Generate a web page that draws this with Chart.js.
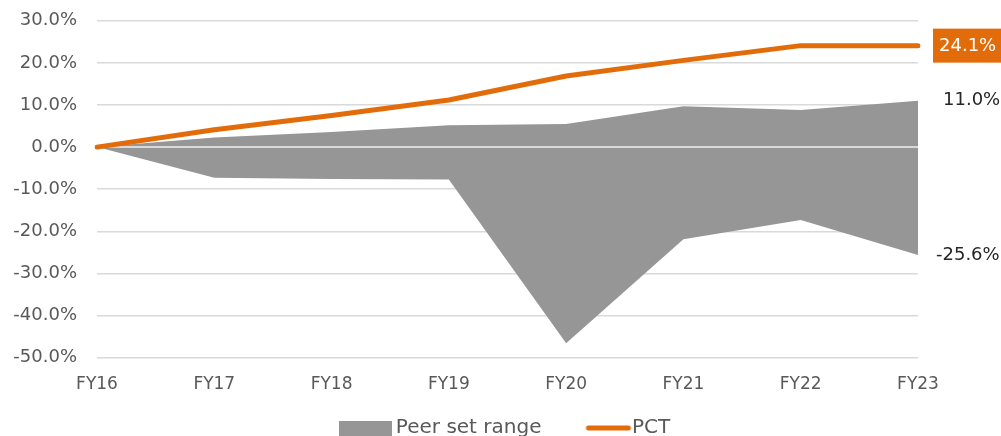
<!DOCTYPE html>
<html>
<head>
<meta charset="utf-8">
<script src="https://cdn.jsdelivr.net/npm/chart.js@4/dist/chart.umd.min.js"></script>
<style>
  html, body { margin: 0; padding: 0; background: #fff; overflow: hidden; }
  #wrap { width: 1001px; height: 436px; overflow: hidden; }
  #peerChart { display: block; margin-top: -10px; }
</style>
</head>
<body>
<div id="wrap"><canvas id="peerChart" width="1001" height="458"></canvas></div>
<script>
// data (percent)
const years = ['FY16', 'FY17', 'FY18', 'FY19', 'FY20', 'FY21', 'FY22', 'FY23'];
const peerHigh = [0, 2.3, 3.6, 5.2, 5.5, 9.7, 8.8, 11.0];
const peerLow = [0, -7.3, -7.6, -7.7, -46.6, -21.9, -17.3, -25.6];
const pct = [0, 4.1, 7.5, 11.2, 16.9, 20.6, 24.1, 24.1];
const zeroLine = [0, 0, 0, 0, 0, 0, 0, 0];
const yTicks = [-50, -40, -30, -20, -10, 0, 10, 20, 30];

const GREY = '#969696';
const ORANGE = '#E36C0A';
const FONT = "'DejaVu Sans', sans-serif";

// legend swatches
function swatch(w, h, draw) {
    const c = document.createElement('canvas');
    c.width = w; c.height = h;
    draw(c.getContext('2d'));
    return c;
}
const greyBox = swatch(53, 15, g => { g.fillStyle = GREY; g.fillRect(0, 0, 53, 15); });
const orangeLine = swatch(70, 8, g => {
    g.strokeStyle = ORANGE; g.lineWidth = 5; g.lineCap = 'round';
    g.beginPath(); g.moveTo(22, 4); g.lineTo(62, 4); g.stroke();
});

// end-of-series labels on the right
const endLabels = {
    id: 'endLabels',
    afterDraw(chart) {
        const ctx = chart.ctx;
        const y = chart.scales.y;
        const x0 = chart.chartArea.right + 15;
        const last = years.length - 1;
        ctx.save();
        ctx.font = '18px ' + FONT;
        ctx.textBaseline = 'middle';
        ctx.textAlign = 'left';

        // PCT label in orange box
        const yp = y.getPixelForValue(pct[last]);
        const t1 = pct[last].toFixed(1) + '%';
        ctx.fillStyle = ORANGE;
        ctx.fillRect(x0, yp - 17, ctx.measureText(t1).width + 12, 34);
        ctx.fillStyle = '#fff';
        ctx.fillText(t1, x0 + 6, yp + 1);

        ctx.fillStyle = '#262626';
        ctx.fillText(peerHigh[last].toFixed(1) + '%', x0 + 10, y.getPixelForValue(peerHigh[last]));
        ctx.fillText(peerLow[last].toFixed(1) + '%', x0 + 3, y.getPixelForValue(peerLow[last]));
        ctx.restore();
    }
};

new Chart(document.getElementById('peerChart'), {
    type: 'line',
    data: {
        labels: years,
        datasets: [{
            label: 'Peer set range',
            data: peerHigh,
            borderWidth: 0,
            borderColor: GREY,
            backgroundColor: GREY,
            fill: '+1',
            pointRadius: 0,
            pointStyle: greyBox,
            order: 3
        }, {
            label: 'low',
            data: peerLow,
            borderWidth: 0,
            borderColor: GREY,
            backgroundColor: GREY,
            fill: false,
            pointRadius: 0,
            order: 4
        }, {
            label: 'zero',
            data: zeroLine,
            borderWidth: 2,
            borderColor: '#d9d9d9',
            fill: false,
            pointRadius: 0,
            order: 2
        }, {
            label: 'PCT',
            data: pct,
            borderWidth: 5,
            borderColor: ORANGE,
            backgroundColor: ORANGE,
            borderCapStyle: 'round',
            borderJoinStyle: 'round',
            fill: false,
            pointRadius: 0,
            pointStyle: orangeLine,
            tension: 0,
            order: 1
        }]
    },
    options: {
        responsive: false,
        animation: false,
        layout: {
            padding: { top: 0, right: 0, left: 0, bottom: 0 }
        },
        plugins: {
            legend: {
                position: 'bottom',
                fullSize: false,
                labels: {
                    usePointStyle: true,
                    pointStyleWidth: 41,
                    boxHeight: 15,
                    color: '#595959',
                    font: { family: FONT, size: 20 },
                    padding: 14,
                    // only the range and PCT; a little extra room after the first entry
                    generateLabels: chart => Chart.defaults.plugins.legend.labels.generateLabels(chart)
                        .filter(it => it.datasetIndex === 0 || it.datasetIndex === 3)
                        .map(it => it.datasetIndex === 0 ? Object.assign(it, { text: it.text + '    ' }) : it),
                    sort: (a, b) => a.datasetIndex - b.datasetIndex
                }
            },
            tooltip: { enabled: false }
        },
        scales: {
            x: {
                offset: false,
                grid: { display: false },
                border: { display: false },
                ticks: {
                    color: '#595959',
                    font: { family: FONT, size: 17 },
                    maxRotation: 0,
                    padding: 9
                }
            },
            y: {
                min: yTicks[0],
                max: yTicks[yTicks.length - 1],
                afterBuildTicks: s => { s.ticks = yTicks.map(v => ({ value: v })); },
                afterFit: s => { s.width = 97; },
                grid: { color: '#d9d9d9', lineWidth: 1.5, drawTicks: false },
                border: { display: false },
                ticks: {
                    color: '#595959',
                    font: { family: FONT, size: 18 },
                    padding: 20,
                    callback: v => v.toFixed(1) + '%'
                }
            },
            // empty right-hand space for the end labels
            yRight: {
                position: 'right',
                display: true,
                min: yTicks[0],
                max: yTicks[yTicks.length - 1],
                grid: { display: false, drawTicks: false },
                border: { display: false },
                ticks: { display: false },
                afterFit: s => { s.width = 83; }
            }
        }
    },
    plugins: [endLabels]
});
</script>
</body>
</html>
